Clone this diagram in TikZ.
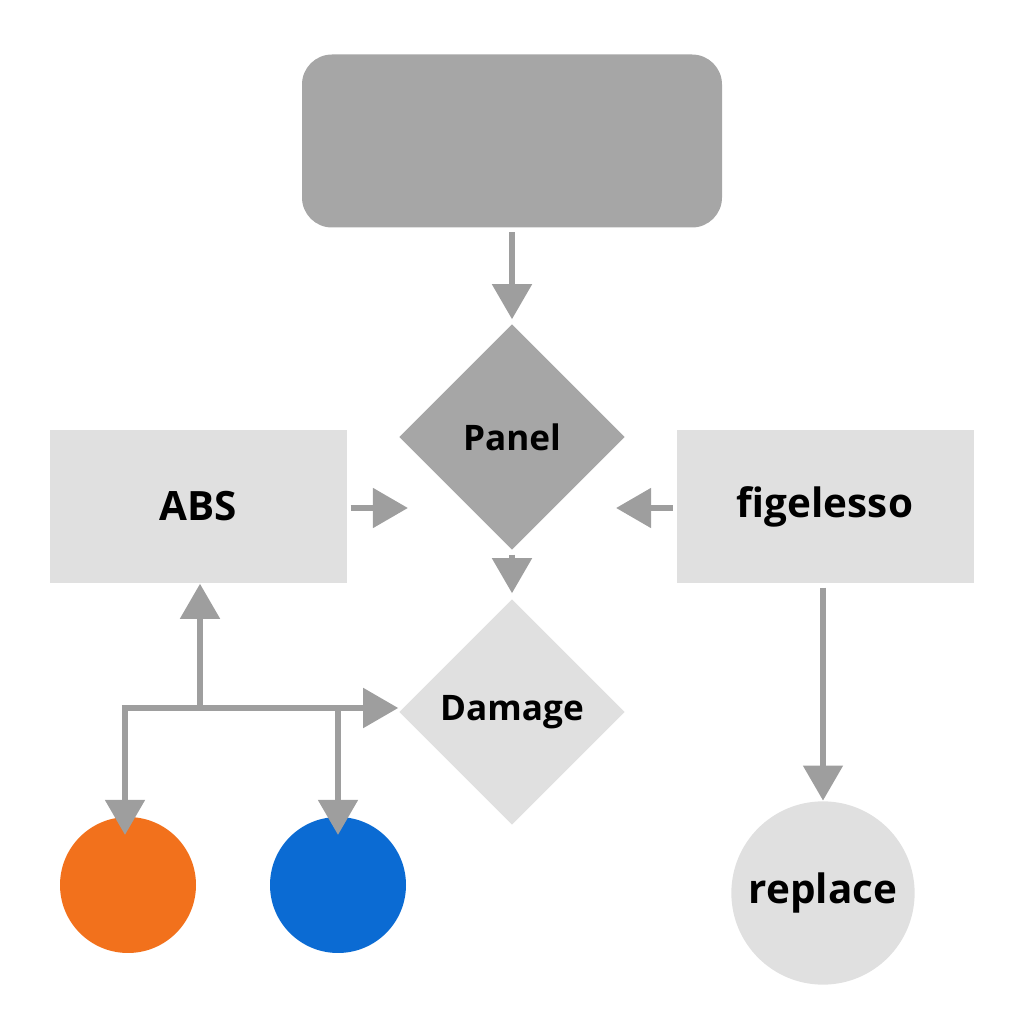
\documentclass[tikz,border=0pt]{standalone}
\usepackage{fontspec}
\setmainfont{Open Sans}
\usetikzlibrary{arrows.meta, shapes.geometric, positioning}
\definecolor{linegray}{HTML}{9E9E9E}
\definecolor{darkgray}{HTML}{A6A6A6}
\definecolor{lightgray}{HTML}{E0E0E0}
\definecolor{myorange}{HTML}{F2711C}
\definecolor{myblue}{HTML}{0B6BD3}
\tikzset{
  box/.style={rectangle, fill=lightgray, minimum width=2.97cm, minimum height=1.53cm, font=\fontsize{11.5}{14}\selectfont\bfseries},
  dia/.style={diamond, minimum width=2.26cm, minimum height=2.26cm, inner sep=0pt, font=\fontsize{10}{12}\selectfont\bfseries},
  arr/.style={draw=linegray, line width=1.8pt, -{Triangle[width=11pt,length=10pt]}, color=linegray},
  ln/.style={draw=linegray, line width=1.8pt}
}
\begin{document}
\begin{tikzpicture}
  \useasboundingbox (0,0) rectangle (10.24,10.24);
  \node[rectangle, rounded corners=0.3cm, fill=darkgray, minimum width=4.2cm, minimum height=1.73cm] at (5.12,8.83) (top) {};
  \node[dia, fill=darkgray] at (5.12,5.87) (panel) {Panel};
  \node[dia, fill=lightgray] at (5.12,3.12) (damage) {Damage};
  \node[box] at (1.985,5.175) (abs) {ABS};
  \node[box] at (8.25,5.175) (fig) {figelesso};
  \node[circle, fill=lightgray, minimum size=1.8cm, font=\fontsize{11.5}{14}\selectfont\bfseries] at (8.23,1.31) (rep) {replace};
  \node[circle, fill=myorange, minimum size=1.36cm] at (1.28,1.39) (orange) {};
  \node[circle, fill=myblue, minimum size=1.36cm] at (3.38,1.39) (blue) {};

  \coordinate (jl) at (1.25,3.16);
  \coordinate (jm) at (2.0,3.16);
  \coordinate (jb) at (3.38,3.16);

  \draw[arr] ([yshift=-0.04cm]top.south) -- ([yshift=0.04cm]panel.north);
  \draw[arr] ([xshift=0.03cm]abs.east |- 0,5.16) -- (4.08,5.16);
  \draw[arr] ([xshift=-0.03cm]fig.west |- 0,5.16) -- (6.16,5.16);
  \draw[arr] ([yshift=-0.04cm]panel.south) -- ([yshift=0.05cm]damage.north);
  \draw[arr] ([yshift=-0.04cm]fig.south -| rep) -- (rep.north);
  \draw[arr] ([xshift=-0.9pt]jl) -- (jl -| damage.west);
  \draw[arr] (jm) -- (jm |- abs.south);
  \draw[arr] (jl) -- (1.25,1.89);
  \draw[arr] (jb) -- (3.38,1.89);
\end{tikzpicture}
\end{document}
